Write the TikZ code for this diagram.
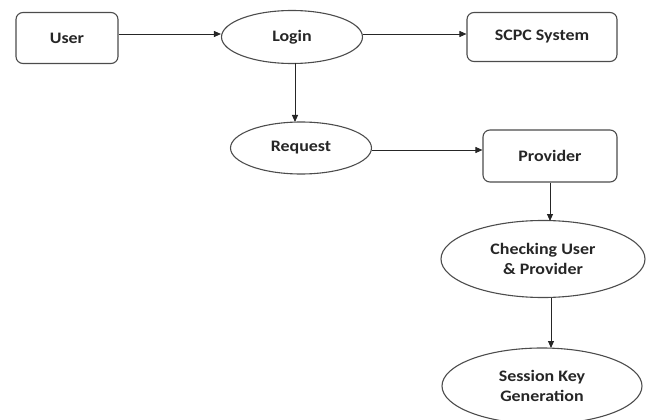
\documentclass[tikz,border=0pt]{standalone}
\usepackage{fontspec}
\setmainfont{Carlito}[FakeStretch=1.12]
\usetikzlibrary{shapes.geometric,arrows.meta}
\begin{document}
\begin{tikzpicture}[x=1pt,y=-1pt,
  every node/.style={font=\bfseries\fontsize{16}{20}\selectfont, text=black!85, align=center},
  rbox/.style={draw=black!70, line width=1.1pt, rounded corners=7pt, inner sep=0pt},
  oval/.style={draw=black!70, line width=1.1pt, ellipse, inner sep=0pt},
  conn/.style={draw=black!85, line width=0.9pt, -{Triangle[length=7pt,width=6pt]}}]
\useasboundingbox (0,0) rectangle (646,420);
\node[rbox, minimum width=102pt, minimum height=51pt] (user) at (67,38) {User};
\node[oval, minimum width=141pt, minimum height=53pt] (login) at (292,37) {Login};
\node[rbox, minimum width=150pt, minimum height=49pt] (scpc) at (542,37) {SCPC System};
\node[oval, minimum width=141pt, minimum height=52pt] (request) at (301,148) {Request};
\node[rbox, minimum width=134pt, minimum height=52pt] (provider) at (550,156) {Provider};
\node[oval, minimum width=204pt, minimum height=77pt] (check) at (543,259) {Checking User\\ \& Provider};
\node[oval, minimum width=200pt, minimum height=76pt] (session) at (542,386) {Session Key\\ Generation};
\coordinate (c1) at (295,63);
\coordinate (c2) at (295,122);
\coordinate (c3) at (550,221);
\coordinate (c4) at (551,298);
\coordinate (c5) at (551,348);
\draw[conn] (user.east |- 0,34) -- (login.west |- 0,34);
\draw[conn] (login.east |- 0,34) -- (scpc.west |- 0,34);
\draw[conn] (c1) -- (c2);
\draw[conn] (request.east |- 0,150) -- (provider.west |- 0,150);
\draw[conn] (provider.south) -- (c3);
\draw[conn] (c4) -- (c5);
\end{tikzpicture}
\end{document}
